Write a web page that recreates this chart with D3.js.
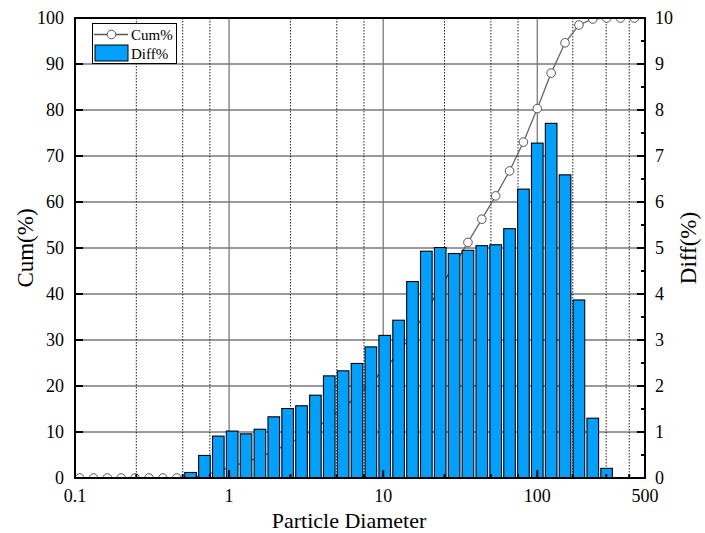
<!DOCTYPE html>
<html><head><meta charset="utf-8">
<script src="https://cdn.jsdelivr.net/npm/d3@7"></script>
<style>
html,body{margin:0;padding:0;background:#fff;}
svg text{font-family:"Liberation Serif","Times New Roman",serif;fill:#000;}
</style></head>
<body>
<svg id="chart" width="705" height="533"></svg>
<script>
// ---- data ----
const diameters = [0.1072,0.1318,0.1622,0.1995,0.2455,0.3020,0.3715,0.4571,0.5623,0.6918,
  0.8511,1.047,1.288,1.585,1.950,2.399,2.951,3.631,4.467,5.495,
  6.761,8.318,10.23,12.59,15.49,19.05,23.44,28.84,35.48,43.65,
  53.70,66.07,81.28,100.0,123.0,151.4,186.2,229.1,281.8,346.7,426.6];
const diffPct = [0,0,0,0,0,0,0,0,0.12,0.49,
  0.91,1.02,0.96,1.06,1.33,1.51,1.57,1.80,2.22,2.33,
  2.49,2.85,3.10,3.43,4.27,4.93,5.01,4.88,4.95,5.05,
  5.07,5.42,6.28,7.28,7.71,6.59,3.87,1.30,0.21,0,0];
const cumPct = [0,0,0,0,0,0,0,0,0.12,0.61,
  1.52,2.54,3.49,4.55,5.88,7.38,8.95,10.75,12.97,15.30,
  17.79,20.64,23.74,27.17,31.44,36.37,41.38,46.26,51.21,56.26,
  61.33,66.75,73.03,80.31,88.02,94.61,98.48,99.78,99.99,100,100];
const xMajorTicks = [0.1,1,10,100,500];
const xMajorLabels = ["0.1","1","10","100","500"];
const xGridSolid = [1,10,100];
const xMinorTicks = [0.25,0.5,0.75,2.5,5,7.5,25,50,75,170,280,395];
const yLeftTicks = [0,10,20,30,40,50,60,70,80,90,100];
const yRightTicks = [0,1,2,3,4,5,6,7,8,9,10];
const yRightMinor = [0.5,1.5,2.5,3.5,4.5,5.5,6.5,7.5,8.5,9.5];

// ---- layout ----
const L = 75, R = 645, T = 18, B = 478;
const svg = d3.select("#chart");
const x = d3.scaleLog().domain([0.1, 500]).range([L, R]);
const yL = d3.scaleLinear().domain([0, 100]).range([B, T]);
const yR = d3.scaleLinear().domain([0, 10]).range([B, T]);

const defs = svg.append("defs");
defs.append("clipPath").attr("id","clip").append("rect")
  .attr("x", L).attr("y", T).attr("width", R-L).attr("height", B-T);

// grid
const grid = svg.append("g");
grid.selectAll("line.h").data(yLeftTicks.slice(1,-1)).join("line")
  .attr("x1", L).attr("x2", R).attr("y1", d=>yL(d)).attr("y2", d=>yL(d))
  .attr("stroke", "#7a7a7a").attr("stroke-width", 1.3);
grid.selectAll("line.vs").data(xGridSolid).join("line")
  .attr("x1", d=>x(d)).attr("x2", d=>x(d)).attr("y1", T).attr("y2", B)
  .attr("stroke", "#7a7a7a").attr("stroke-width", 1.3);
grid.selectAll("line.vd").data(xMinorTicks).join("line")
  .attr("x1", d=>x(d)).attr("x2", d=>x(d)).attr("y1", T).attr("y2", B)
  .attr("stroke", "#222").attr("stroke-width", 1).attr("stroke-dasharray", "1.5,1.5");

// cumulative line (under bars)
const cumG = svg.append("g").attr("clip-path", "url(#clip)");
const line = d3.line().x((d,i)=>x(diameters[i])).y(d=>yL(d));
cumG.append("path").datum(cumPct).attr("d", line)
  .attr("fill","none").attr("stroke","#666").attr("stroke-width",1.3);
cumG.selectAll("circle").data(cumPct).join("circle")
  .attr("cx",(d,i)=>x(diameters[i])).attr("cy", d=>yL(d)).attr("r", 4.3)
  .attr("fill","#fff").attr("stroke","#555").attr("stroke-width",1);

// bars
const step = x(diameters[1]) - x(diameters[0]);
const bw = step * 0.84;
svg.append("g").selectAll("rect").data(diffPct.map((v,i)=>({v, d: diameters[i]})).filter(o=>o.v>0)).join("rect")
  .attr("x", o=>x(o.d)-bw/2).attr("width", bw)
  .attr("y", o=>yR(o.v)).attr("height", o=>B - yR(o.v))
  .attr("fill","#00A0FF").attr("stroke","#000").attr("stroke-width",1.1);

// ticks
const tk = svg.append("g").attr("stroke","#000");
tk.selectAll("line.xm").data(xMajorTicks).join("line")
  .attr("x1", d=>x(d)).attr("x2", d=>x(d)).attr("y1", B).attr("y2", B-8).attr("stroke-width",2);
tk.selectAll("line.xn").data(xMinorTicks).join("line")
  .attr("x1", d=>x(d)).attr("x2", d=>x(d)).attr("y1", B).attr("y2", B-4).attr("stroke-width",2);
tk.selectAll("line.yl").data(yLeftTicks).join("line")
  .attr("x1", L).attr("x2", L+8).attr("y1", d=>yL(d)).attr("y2", d=>yL(d)).attr("stroke-width",2);
tk.selectAll("line.yr").data(yRightTicks).join("line")
  .attr("x1", R).attr("x2", R-8).attr("y1", d=>yR(d)).attr("y2", d=>yR(d)).attr("stroke-width",2);
tk.selectAll("line.yrn").data(yRightMinor).join("line")
  .attr("x1", R).attr("x2", R-4).attr("y1", d=>yR(d)).attr("y2", d=>yR(d)).attr("stroke-width",2);

// frame
svg.append("rect").attr("x", L).attr("y", T).attr("width", R-L).attr("height", B-T)
  .attr("fill","none").attr("stroke","#000").attr("stroke-width",2);

// tick labels
const lab = svg.append("g").style("font-size","18px");
lab.selectAll("text.x").data(xMajorTicks).join("text")
  .attr("x", d=>x(d)).attr("y", B+24).attr("text-anchor","middle")
  .text((d,i)=>xMajorLabels[i]);
lab.selectAll("text.yl").data(yLeftTicks).join("text")
  .attr("x", L-11).attr("y", d=>yL(d)+6).attr("text-anchor","end").text(d=>d);
lab.selectAll("text.yr").data(yRightTicks).join("text")
  .attr("x", R+10).attr("y", d=>yR(d)+6).attr("text-anchor","start").text(d=>d);

// axis titles
svg.append("text").attr("x", 349).attr("y", 528).attr("text-anchor","middle")
  .style("font-size","22px").text("Particle Diameter");
svg.append("text").attr("transform", `translate(33,${(T+B)/2}) rotate(-90)`)
  .attr("text-anchor","middle").style("font-size","23px").text("Cum(%)");
svg.append("text").attr("transform", `translate(696,${(T+B)/2}) rotate(-90)`)
  .attr("text-anchor","middle").style("font-size","23px").text("Diff(%)");

// legend
const lg = svg.append("g");
lg.append("rect").attr("x",92.5).attr("y",23.5).attr("width",84).attr("height",40)
  .attr("fill","#fff").attr("stroke","#000").attr("stroke-width",1);
lg.append("line").attr("x1",94).attr("x2",128).attr("y1",34.5).attr("y2",34.5)
  .attr("stroke","#555").attr("stroke-width",1.3);
lg.append("circle").attr("cx",111.5).attr("cy",34.5).attr("r",4.3)
  .attr("fill","#fff").attr("stroke","#555");
lg.append("text").attr("x",131).attr("y",39.5).style("font-size","15px").text("Cum%");
lg.append("rect").attr("x",95).attr("y",45).attr("width",33).attr("height",16)
  .attr("fill","#00A0FF").attr("stroke","#000");
lg.append("text").attr("x",131).attr("y",58.5).style("font-size","15px").text("Diff%");
</script>
</body></html>
